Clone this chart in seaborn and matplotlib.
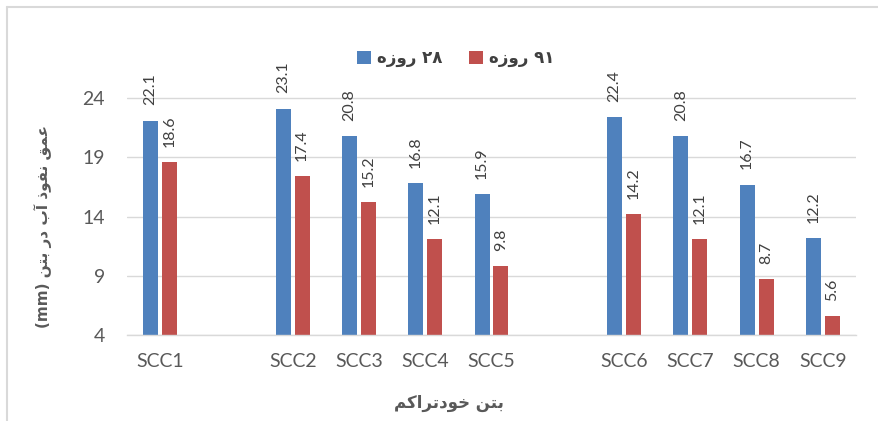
import matplotlib
matplotlib.use("Agg")
import matplotlib.pyplot as plt
from matplotlib.lines import Line2D
import pandas as pd
import seaborn as sns

# ---- data -------------------------------------------------------------
mixes = ["SCC1", "SCC2", "SCC3", "SCC4", "SCC5", "SCC6", "SCC7", "SCC8", "SCC9"]
depth_28 = [22.1, 23.1, 20.8, 16.8, 15.9, 22.4, 20.8, 16.7, 12.2]
depth_91 = [18.6, 17.4, 15.2, 12.1, 9.8, 14.2, 12.1, 8.7, 5.6]
series_names = ["۲۸ روزه", "۹۱ روزه"]
# category slots, with blank spacers separating the mix groups
slot_order = ["SCC1", " ", "SCC2", "SCC3", "SCC4", "SCC5", "  ",
              "SCC6", "SCC7", "SCC8", "SCC9"]
y_ticks = [4, 9, 14, 19, 24]
x_title = "بتن خودتراکم"
y_title = "عمق نفوذ آب در بتن (mm)"

# ---- minimal Arabic-script shaping (matplotlib draws glyphs left to right) --
# letter: (isolated, final, initial, medial); right-joining letters have no initial/medial
FORMS = {
    "ا": ("\uFE8D", "\uFE8E", None, None),
    "آ": ("\uFE81", "\uFE82", None, None),
    "ب": ("\uFE8F", "\uFE90", "\uFE91", "\uFE92"),
    "ت": ("\uFE95", "\uFE96", "\uFE97", "\uFE98"),
    "خ": ("\uFEA5", "\uFEA6", "\uFEA7", "\uFEA8"),
    "د": ("\uFEA9", "\uFEAA", None, None),
    "ذ": ("\uFEAB", "\uFEAC", None, None),
    "ر": ("\uFEAD", "\uFEAE", None, None),
    "ز": ("\uFEAF", "\uFEB0", None, None),
    "ع": ("\uFEC9", "\uFECA", "\uFECB", "\uFECC"),
    "ف": ("\uFED1", "\uFED2", "\uFED3", "\uFED4"),
    "ق": ("\uFED5", "\uFED6", "\uFED7", "\uFED8"),
    "ک": ("\uFB8E", "\uFB8F", "\uFB90", "\uFB91"),
    "م": ("\uFEE1", "\uFEE2", "\uFEE3", "\uFEE4"),
    "ن": ("\uFEE5", "\uFEE6", "\uFEE7", "\uFEE8"),
    "ه": ("\uFEE9", "\uFEEA", "\uFEEB", "\uFEEC"),
    "و": ("\uFEED", "\uFEEE", None, None),
}


def shape_word(word):
    out = []
    for i, ch in enumerate(word):
        if ch not in FORMS:
            out.append(ch)
            continue
        iso, fin, ini, med = FORMS[ch]
        prev = word[i - 1] if i > 0 else None
        nxt = word[i + 1] if i + 1 < len(word) else None
        joins_prev = prev in FORMS and FORMS[prev][2] is not None
        joins_next = nxt in FORMS and ini is not None
        if joins_prev and joins_next:
            out.append(med)
        elif joins_prev:
            out.append(fin)
        elif joins_next:
            out.append(ini)
        else:
            out.append(iso)
    return "".join(out)


def rtl(text):
    words = []
    for w in text.split(" "):
        if any(c in FORMS for c in w):
            words.append(shape_word(w)[::-1])
        else:
            words.append(w)
    return " ".join(reversed(words))


# ---- tidy table --------------------------------------------------------
df = pd.DataFrame({
    "mix": mixes * 2,
    "depth": depth_28 + depth_91,
    "age": [rtl(series_names[0])] * len(mixes) + [rtl(series_names[1])] * len(mixes),
})

# ---- style -------------------------------------------------------------
sns.set_theme(style="white")
plt.rcParams["font.family"] = ["Lato", "DejaVu Sans"]

W, H = 879, 421
fig = plt.figure(figsize=(W / 100, H / 100), dpi=100)
ax = fig.add_axes([127 / W, 1 - 335 / H, (856 - 127) / W, (335 - 62.5) / H])

blue, red = "#4F81BD", "#C0504D"
sns.barplot(data=df, x="mix", y="depth", hue="age", order=slot_order,
            hue_order=[rtl(s) for s in series_names], palette=[blue, red],
            saturation=1, width=0.572, gap=0.21, dodge=True, ax=ax, legend=True,
            edgecolor="none", linewidth=0)

ax.set_ylim(4, 27)
ax.set_yticks(y_ticks)
ax.set_xlim(-0.5, len(slot_order) - 0.5)
ax.yaxis.grid(True, color="#d9d9d9", linewidth=1)
ax.set_axisbelow(True)
for side in ("top", "right", "left"):
    ax.spines[side].set_visible(False)
ax.spines["bottom"].set_color("#d9d9d9")
ax.spines["bottom"].set_linewidth(1)
ax.tick_params(axis="both", length=0, labelsize=14, labelcolor="#595959")
ax.tick_params(axis="y", pad=16)
ax.tick_params(axis="x", pad=13)
ax.set_xlabel("")
ax.set_ylabel("")

# value labels above each bar
for cont in ax.containers:
    ax.bar_label(cont, fmt="%g", rotation=90, padding=11, fontsize=11.5,
                 color="#404040", clip_on=False)

# legend
handles, labels = ax.get_legend_handles_labels()
ax.legend_.remove()
fig.legend(handles, labels, loc="center", bbox_to_anchor=(456 / W, 1 - 58 / H),
           ncol=2, frameon=False, handlelength=0.8, handleheight=0.8,
           handletextpad=0.4, columnspacing=1.6,
           prop={"family": "DejaVu Sans", "weight": "bold", "size": 12},
           labelcolor="#404040")

# axis titles
fig.text(449 / W, 1 - 403 / H, rtl(x_title), ha="center", va="center",
         fontsize=12, fontweight="bold", color="#595959", family="DejaVu Sans")
fig.text(43 / W, 1 - 226 / H, rtl(y_title), ha="center", va="center",
         rotation=90, fontsize=11, fontweight="bold", color="#595959",
         family="DejaVu Sans")

# chart frame
fig.add_artist(Line2D([7 / W, 7 / W], [0, 1 - 7 / H], transform=fig.transFigure,
                      color="#d9d9d9", linewidth=1.5))
fig.add_artist(Line2D([7 / W, 1], [1 - 7 / H, 1 - 7 / H], transform=fig.transFigure,
                      color="#d9d9d9", linewidth=1.5))

fig.savefig("out.png", dpi=100, facecolor="white")
